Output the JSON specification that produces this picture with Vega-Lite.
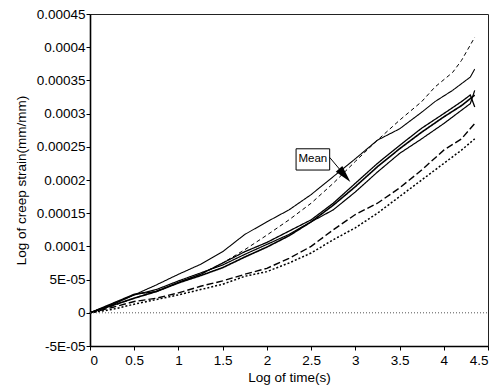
{
  "$schema": "https://vega.github.io/schema/vega-lite/v6.json",
  "width": 398,
  "height": 332,
  "autosize": "none",
  "padding": {"left": 90, "top": 14, "right": 11, "bottom": 40},
  "background": "white",
  "config": {
    "view": {"stroke": "#222", "strokeWidth": 1},
    "font": "Liberation Sans",
    "axis": {
      "labelFont": "Liberation Sans", "titleFont": "Liberation Sans",
      "labelFontSize": 13.5, "titleFontSize": 13.5, "titleFontWeight": "normal",
      "labelColor": "#000", "titleColor": "#000",
      "domainColor": "#000", "tickColor": "#000", "domainWidth": 1.6, "tickWidth": 1,
      "tickSize": 4, "grid": false, "labelOverlap": false
    }
  },
  "datasets": {
    "curves": [
      {"s":"A","t":0,"v":0},{"s":"A","t":0.25,"v":0.00001},{"s":"A","t":0.5,"v":0.000022},{"s":"A","t":0.75,"v":0.000033},{"s":"A","t":1,"v":0.000045},{"s":"A","t":1.25,"v":0.000058},{"s":"A","t":1.5,"v":0.000075},{"s":"A","t":1.75,"v":0.000095},{"s":"A","t":2,"v":0.000117},{"s":"A","t":2.25,"v":0.00014},{"s":"A","t":2.5,"v":0.000165},{"s":"A","t":2.75,"v":0.000195},{"s":"A","t":3,"v":0.000228},{"s":"A","t":3.25,"v":0.00026},{"s":"A","t":3.5,"v":0.00029},{"s":"A","t":3.75,"v":0.000318},{"s":"A","t":3.9,"v":0.00034},{"s":"A","t":4.1,"v":0.000362},{"s":"A","t":4.2,"v":0.00038},{"s":"A","t":4.35,"v":0.000415},
      {"s":"B","t":0,"v":0},{"s":"B","t":0.25,"v":0.000012},{"s":"B","t":0.5,"v":0.000027},{"s":"B","t":0.75,"v":0.000042},{"s":"B","t":1,"v":0.000058},{"s":"B","t":1.25,"v":0.000073},{"s":"B","t":1.5,"v":0.000092},{"s":"B","t":1.75,"v":0.000118},{"s":"B","t":2,"v":0.000137},{"s":"B","t":2.25,"v":0.000155},{"s":"B","t":2.5,"v":0.000178},{"s":"B","t":2.75,"v":0.000205},{"s":"B","t":3,"v":0.000232},{"s":"B","t":3.25,"v":0.00026},{"s":"B","t":3.5,"v":0.000277},{"s":"B","t":3.75,"v":0.000302},{"s":"B","t":3.9,"v":0.000318},{"s":"B","t":4.1,"v":0.000335},{"s":"B","t":4.3,"v":0.000355},{"s":"B","t":4.35,"v":0.000367},
      {"s":"C","t":0,"v":0},{"s":"C","t":0.25,"v":0.000013},{"s":"C","t":0.5,"v":0.000027},{"s":"C","t":0.75,"v":0.000035},{"s":"C","t":1,"v":0.000048},{"s":"C","t":1.25,"v":0.00006},{"s":"C","t":1.5,"v":0.000072},{"s":"C","t":1.75,"v":0.000088},{"s":"C","t":2,"v":0.000103},{"s":"C","t":2.25,"v":0.000118},{"s":"C","t":2.5,"v":0.000137},{"s":"C","t":2.75,"v":0.000155},{"s":"C","t":3,"v":0.000182},{"s":"C","t":3.25,"v":0.000212},{"s":"C","t":3.5,"v":0.00024},{"s":"C","t":3.75,"v":0.000262},{"s":"C","t":4,"v":0.000285},{"s":"C","t":4.2,"v":0.000305},{"s":"C","t":4.3,"v":0.000315},{"s":"C","t":4.35,"v":0.000335},
      {"s":"D","t":0,"v":0},{"s":"D","t":0.25,"v":0.000014},{"s":"D","t":0.5,"v":0.000028},{"s":"D","t":0.75,"v":0.000032},{"s":"D","t":1,"v":0.000046},{"s":"D","t":1.25,"v":0.000058},{"s":"D","t":1.5,"v":0.000075},{"s":"D","t":1.75,"v":0.000092},{"s":"D","t":2,"v":0.000106},{"s":"D","t":2.25,"v":0.000123},{"s":"D","t":2.5,"v":0.00014},{"s":"D","t":2.75,"v":0.000165},{"s":"D","t":3,"v":0.000195},{"s":"D","t":3.25,"v":0.000225},{"s":"D","t":3.5,"v":0.000252},{"s":"D","t":3.75,"v":0.000278},{"s":"D","t":4,"v":0.0003},{"s":"D","t":4.2,"v":0.000318},{"s":"D","t":4.3,"v":0.000328},{"s":"D","t":4.35,"v":0.00031},
      {"s":"E","t":0,"v":0},{"s":"E","t":0.25,"v":0.000008},{"s":"E","t":0.5,"v":0.000017},{"s":"E","t":0.75,"v":0.000022},{"s":"E","t":1,"v":0.00003},{"s":"E","t":1.25,"v":0.00004},{"s":"E","t":1.5,"v":0.000048},{"s":"E","t":1.75,"v":0.000058},{"s":"E","t":2,"v":0.000067},{"s":"E","t":2.25,"v":0.000082},{"s":"E","t":2.5,"v":0.0001},{"s":"E","t":2.75,"v":0.000125},{"s":"E","t":3,"v":0.000148},{"s":"E","t":3.25,"v":0.000165},{"s":"E","t":3.5,"v":0.000188},{"s":"E","t":3.75,"v":0.000215},{"s":"E","t":4,"v":0.000245},{"s":"E","t":4.2,"v":0.000262},{"s":"E","t":4.35,"v":0.000285},
      {"s":"F","t":0,"v":0},{"s":"F","t":0.25,"v":0.000005},{"s":"F","t":0.5,"v":0.000013},{"s":"F","t":0.75,"v":0.00002},{"s":"F","t":1,"v":0.000027},{"s":"F","t":1.25,"v":0.000035},{"s":"F","t":1.5,"v":0.000043},{"s":"F","t":1.75,"v":0.000055},{"s":"F","t":2,"v":0.000062},{"s":"F","t":2.25,"v":0.000075},{"s":"F","t":2.5,"v":0.00009},{"s":"F","t":2.75,"v":0.00011},{"s":"F","t":3,"v":0.000128},{"s":"F","t":3.25,"v":0.00015},{"s":"F","t":3.5,"v":0.000175},{"s":"F","t":3.75,"v":0.0002},{"s":"F","t":4,"v":0.000225},{"s":"F","t":4.2,"v":0.000245},{"s":"F","t":4.35,"v":0.000262},
      {"s":"Mean","t":0,"v":0},{"s":"Mean","t":0.25,"v":0.000011},{"s":"Mean","t":0.5,"v":0.000022},{"s":"Mean","t":0.75,"v":0.000032},{"s":"Mean","t":1,"v":0.000045},{"s":"Mean","t":1.25,"v":0.000056},{"s":"Mean","t":1.5,"v":0.000068},{"s":"Mean","t":1.75,"v":0.000084},{"s":"Mean","t":2,"v":0.000099},{"s":"Mean","t":2.25,"v":0.000116},{"s":"Mean","t":2.5,"v":0.000137},{"s":"Mean","t":2.75,"v":0.000162},{"s":"Mean","t":3,"v":0.00019},{"s":"Mean","t":3.25,"v":0.00022},{"s":"Mean","t":3.5,"v":0.000247},{"s":"Mean","t":3.75,"v":0.000272},{"s":"Mean","t":4,"v":0.000295},{"s":"Mean","t":4.2,"v":0.000312},{"s":"Mean","t":4.35,"v":0.000328}
    ],
    "note": [{"x1": 2.33, "x2": 2.71, "y1": 0.000215, "y2": 0.000247, "tx": 2.52, "ty": 0.000231, "label": "Mean", "ax": 2.71, "ay": 0.000234, "bx": 2.88, "by": 0.000207, "hx": 2.88, "hy": 0.000207}]
  },
  "layer": [
    {
      "data": {"name": "curves"},
      "mark": {"type": "line", "color": "#000"},
      "encoding": {
        "x": {"field": "t", "type": "quantitative", "scale": {"domain": [0, 4.5], "nice": false},
          "axis": {"title": "Log of time(s)", "values": [0, 0.5, 1, 1.5, 2, 2.5, 3, 3.5, 4, 4.5], "tickCount": 20, "format": "~g", "labelPadding": 3, "titlePadding": 4, "labelOverlap": false}},
        "y": {"field": "v", "type": "quantitative", "scale": {"domain": [-0.00005, 0.00045], "nice": false},
          "axis": {"title": "Log of creep strain(mm/mm)", "values": [-0.00005, 0, 0.00005, 0.0001, 0.00015, 0.0002, 0.00025, 0.0003, 0.00035, 0.0004, 0.00045], "tickCount": 20,
            "labelExpr": "abs(datum.value - 0.00005) < 1e-9 ? '5E-05' : abs(datum.value + 0.00005) < 1e-9 ? '-5E-05' : '' + datum.value",
            "labelPadding": 1, "titlePadding": 8, "labelOverlap": false, "labelFlush": false}},
        "detail": {"field": "s"},
        "strokeDash": {"field": "s", "type": "nominal", "legend": null,
          "scale": {"domain": ["A","B","C","D","E","F","Mean"], "range": [[4,3],[1,0],[1,0],[1,0],[7,3],[2,2],[1,0]]}},
        "strokeWidth": {"field": "s", "type": "nominal", "legend": null,
          "scale": {"domain": ["A","B","C","D","E","F","Mean"], "range": [1, 1.6, 1, 1, 1.6, 1.2, 2]}}
      }
    },
    {
      "data": {"values": [{"z": 0, "a": 0, "b": 4.5}]},
      "mark": {"type": "rule", "color": "#555", "strokeWidth": 1, "strokeDash": [1, 2]},
      "encoding": {
        "y": {"field": "z", "type": "quantitative"},
        "x": {"field": "a", "type": "quantitative"},
        "x2": {"field": "b"}
      }
    },
    {
      "data": {"name": "note"},
      "mark": {"type": "rect", "fill": "white", "stroke": "#000", "strokeWidth": 1},
      "encoding": {
        "x": {"field": "x1", "type": "quantitative"}, "x2": {"field": "x2"},
        "y": {"field": "y1", "type": "quantitative"}, "y2": {"field": "y2"}
      }
    },
    {
      "data": {"name": "note"},
      "mark": {"type": "text", "font": "Liberation Sans", "fontSize": 11.5, "color": "#000", "align": "center", "baseline": "middle"},
      "encoding": {
        "x": {"field": "tx", "type": "quantitative"},
        "y": {"field": "ty", "type": "quantitative"},
        "text": {"field": "label"}
      }
    },
    {
      "data": {"name": "note"},
      "mark": {"type": "rule", "color": "#000", "strokeWidth": 1},
      "encoding": {
        "x": {"field": "ax", "type": "quantitative"}, "x2": {"field": "bx"},
        "y": {"field": "ay", "type": "quantitative"}, "y2": {"field": "by"}
      }
    },
    {
      "data": {"name": "note"},
      "mark": {"type": "point", "shape": "M0,-1L0.5,1L-0.5,1Z", "filled": true, "color": "#000", "opacity": 1, "size": 300, "angle": 139},
      "encoding": {
        "x": {"field": "hx", "type": "quantitative"},
        "y": {"field": "hy", "type": "quantitative"}
      }
    }
  ]
}
